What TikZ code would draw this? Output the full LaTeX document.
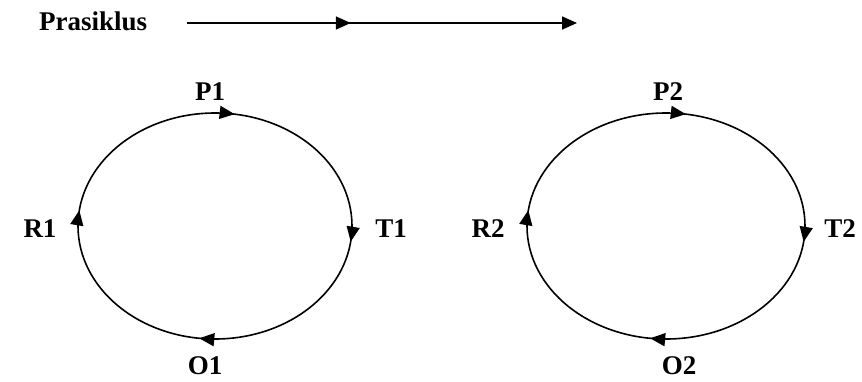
\documentclass[tikz,border=0pt]{standalone}
\usepackage{fontspec}
\setmainfont{Liberation Serif}
\usetikzlibrary{arrows.meta,decorations.markings}

\tikzset{
  cyctip/.tip={Triangle[length=15pt,width=13pt]},
}

\begin{document}
\begin{tikzpicture}[x=1pt,y=-1pt,
  lbl/.style={font=\fontsize{27}{32}\selectfont\bfseries, inner sep=0pt},
  cycleline/.style={line width=1.6pt, postaction={decorate},
    decoration={markings,
      mark=at position 0.02 with {\arrow{cyctip}},
      mark=at position 0.275 with {\arrow{cyctip}},
      mark=at position 0.52 with {\arrow{cyctip}},
      mark=at position 0.77 with {\arrow{cyctip}}}}]
  \useasboundingbox (0,0) rectangle (862,381);

  % heading and timeline arrow
  \node[lbl, anchor=base west] (title) at (39,30) {Prasiklus};
  \coordinate (ls) at (187,23);
  \coordinate (le) at (577,23);
  \draw[line width=1.6pt, -{cyctip}, postaction={decorate},
    decoration={markings, mark=at position 0.42 with {\arrow{cyctip}}}] (ls) -- (le);

  % first cycle
  \coordinate (c1) at (215,226);
  \draw[cycleline] (c1) ++(-137,0)
    arc[start angle=180, end angle=540, x radius=137, y radius=113];
  \node[lbl] (p1) at (210,92) {P1};
  \node[lbl] (t1) at (391,229) {T1};
  \node[lbl] (o1) at (205,366) {O1};
  \node[lbl] (r1) at (40,229) {R1};

  % second cycle
  \coordinate (c2) at (666,226);
  \draw[cycleline] (c2) ++(-139,0)
    arc[start angle=180, end angle=540, x radius=139, y radius=113];
  \node[lbl] (p2) at (668,92) {P2};
  \node[lbl] (t2) at (840,229) {T2};
  \node[lbl] (o2) at (679,366) {O2};
  \node[lbl] (r2) at (488,229) {R2};
\end{tikzpicture}
\end{document}
